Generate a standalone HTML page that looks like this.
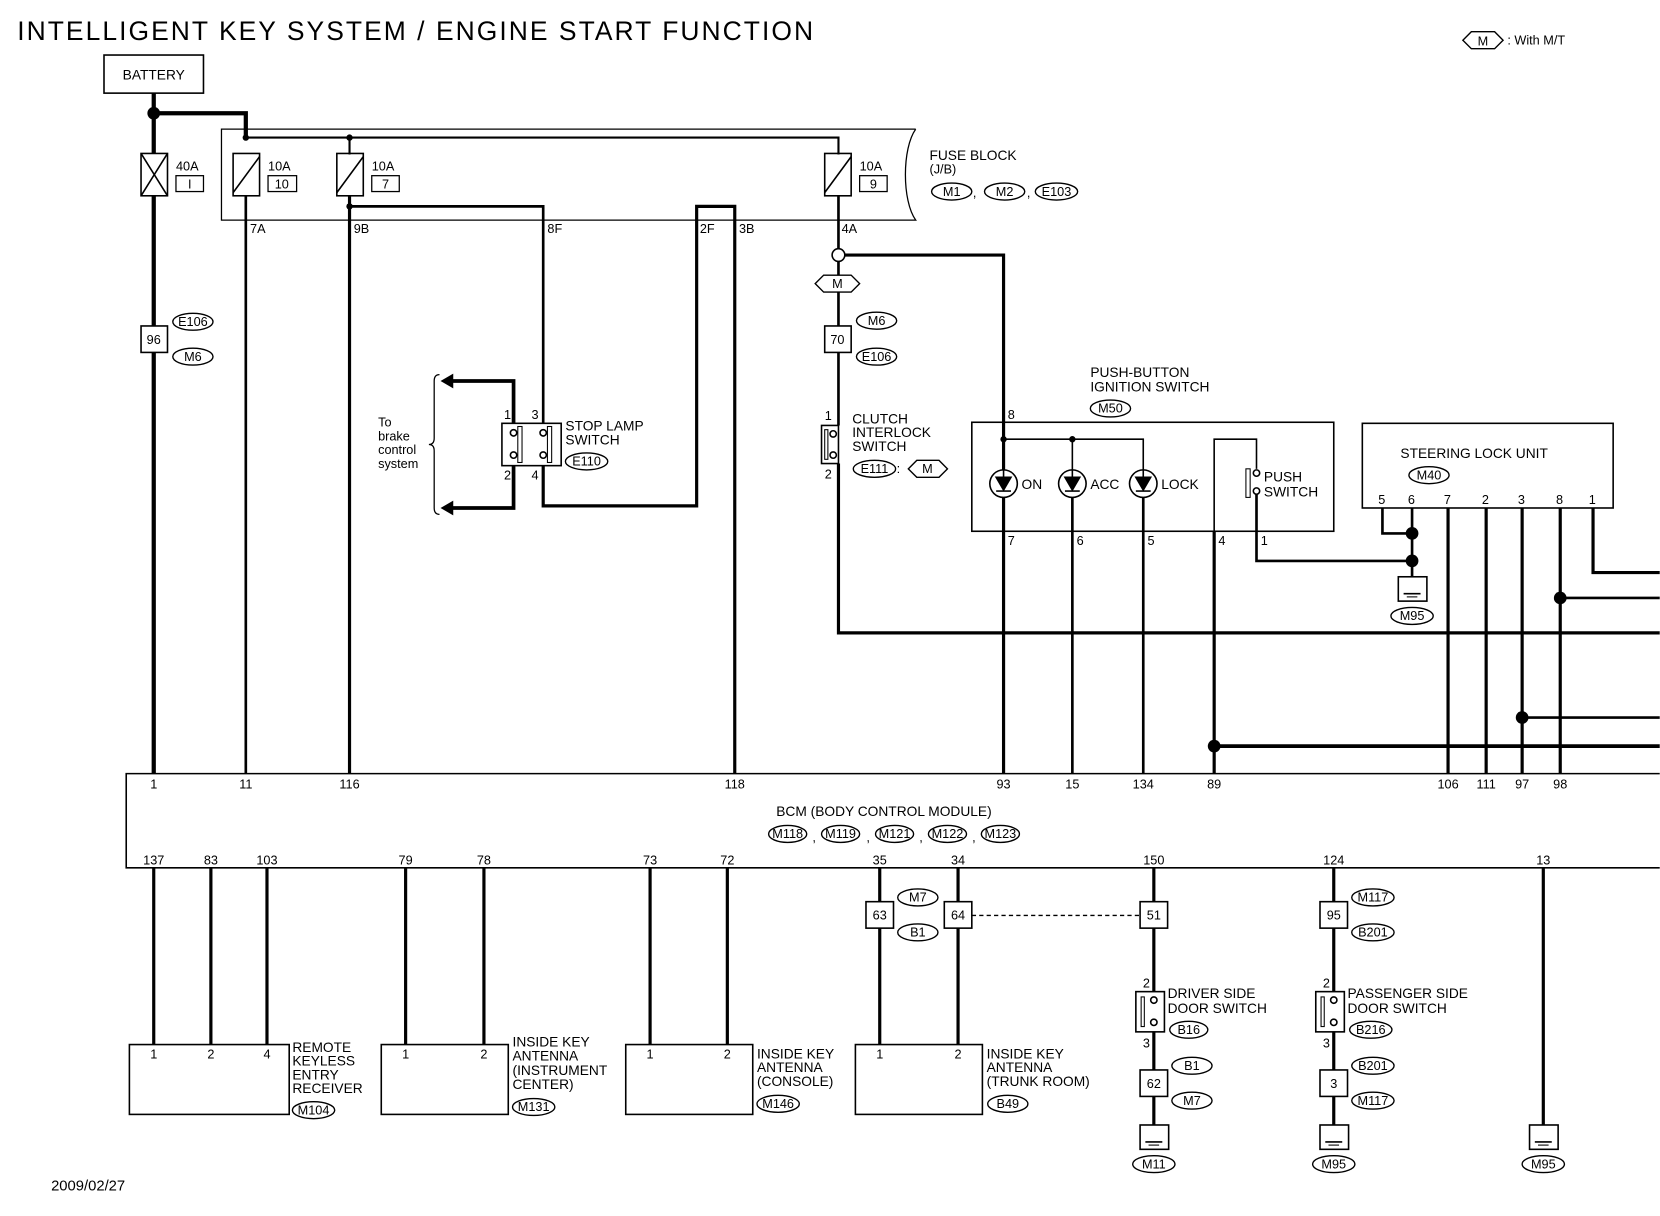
<!DOCTYPE html>
<html><head><meta charset="utf-8"><style>
html,body{margin:0;padding:0;background:#fff}
svg{display:block}
text{font-family:"Liberation Sans",sans-serif;fill:#000}
</style></head><body>
<svg width="1660" height="1216" viewBox="0 0 1568 1149" xmlns="http://www.w3.org/2000/svg">
<defs>
<g id="gnd"><rect x="-13" y="0" width="27" height="23" fill="#fff" stroke="#000" stroke-width="1.5"/><line x1="-8" y1="16" x2="8" y2="16" stroke="#000" stroke-width="1.5"/><line x1="-5" y1="19" x2="5" y2="19" stroke="#000" stroke-width="1"/></g>
</defs>
<rect width="1568" height="1149" fill="#fff"/>
<text x="16" y="38" font-size="25" textLength="752">INTELLIGENT KEY SYSTEM / ENGINE START FUNCTION</text>
<path d="M1382 38 L1390 30 L1412 30 L1420 38 L1412 46 L1390 46 Z" fill="none" stroke="#000" stroke-width="1.3"/>
<text x="1401" y="43" font-size="12" text-anchor="middle">M</text>
<text x="1424" y="42" font-size="12">: With M/T</text>

<g fill="none" stroke="#000">
<rect x="98" y="52" width="94" height="36" stroke-width="1.5"/>
<polyline points="145,88 145,731" stroke-width="4"/>
<polyline points="145,107 232,107 232,130" stroke-width="4"/>
<path d="M865 122 L209 122 L209 208 L865 208 C852 190 852 140 865 122" stroke-width="1.2"/>
<polyline points="232,130 792,130 792,146" stroke-width="2"/>
<line x1="330" y1="130" x2="330" y2="146" stroke-width="2"/>
<rect x="133" y="145" width="25" height="40" stroke-width="1.5" fill="#fff"/>
<line x1="133" y1="145" x2="158" y2="185" stroke-width="1.5"/><line x1="158" y1="145" x2="133" y2="185" stroke-width="1.5"/>
<rect x="220" y="145" width="25" height="40" stroke-width="1.5"/><line x1="220" y1="182" x2="245" y2="148" stroke-width="1.5"/>
<rect x="318" y="145" width="25" height="40" stroke-width="1.5"/><line x1="318" y1="182" x2="343" y2="148" stroke-width="1.5"/>
<rect x="779" y="145" width="25" height="40" stroke-width="1.5"/><line x1="779" y1="182" x2="804" y2="148" stroke-width="1.5"/>
<rect x="166" y="166" width="26" height="15" stroke-width="1.2"/>
<rect x="253" y="166" width="27" height="15" stroke-width="1.2"/>
<rect x="351" y="166" width="26" height="15" stroke-width="1.2"/>
<rect x="812" y="166" width="26" height="15" stroke-width="1.2"/>
<line x1="232" y1="185" x2="232" y2="731" stroke-width="2.5"/>
<line x1="330" y1="185" x2="330" y2="731" stroke-width="3"/>
<polyline points="330,195 513,195 513,400" stroke-width="2.5"/>
<polyline points="694,731 694,195 658,195 658,478 513,478 513,440" stroke-width="3"/>
<line x1="792" y1="185" x2="792" y2="235" stroke-width="2.5"/>
<polyline points="798,241 948,241 948,731" stroke-width="3"/>
<line x1="792" y1="247" x2="792" y2="402" stroke-width="2.5"/>
<polyline points="792,438 792,598 1568,598" stroke-width="3"/>
<rect x="474" y="400" width="56" height="40" stroke-width="1.5"/>
<polyline points="485,400 485,360 425,360" stroke-width="3.5"/>
<polyline points="485,440 485,480 425,480" stroke-width="3.5"/>
<path d="M415 354 Q410 354 410 360 L410 414 Q410 420 405 420 Q410 420 410 426 L410 480 Q410 486 415 486" stroke-width="1.2"/>
<rect x="489" y="403" width="4" height="34" stroke-width="1"/><rect x="517" y="403" width="4" height="34" stroke-width="1"/>
<rect x="776" y="402" width="16" height="36" stroke-width="1.5"/>
<rect x="779" y="406" width="3" height="28" stroke-width="1"/>
<path d="M770 268 L778 260 L804 260 L812 268 L804 276 L778 276 Z" stroke-width="1.3" fill="#fff"/>
<path d="M858 443 L866 435 L887 435 L895 443 L887 451 L866 451 Z" stroke-width="1.3"/>
<rect x="133" y="308" width="25" height="25" stroke-width="1.5" fill="#fff"/>
<rect x="779" y="308" width="25" height="25" stroke-width="1.5" fill="#fff"/>
<rect x="918" y="399" width="342" height="103" stroke-width="1.5"/>
<polyline points="948,415 1080,415 1080,444" stroke-width="1.5"/>
<line x1="1013" y1="415" x2="1013" y2="444" stroke-width="1.5"/>
<line x1="1013" y1="470" x2="1013" y2="731" stroke-width="2.5"/>
<line x1="1080" y1="470" x2="1080" y2="731" stroke-width="2.5"/>
<polyline points="1147,731 1147,415 1187,415 1187,443" stroke-width="1.5"/>
<line x1="1147" y1="502" x2="1147" y2="731" stroke-width="3"/>
<polyline points="1187,467 1187,530 1334,530" stroke-width="2.5"/>
<rect x="1177" y="443" width="4" height="27" stroke-width="1"/>
<line x1="1147" y1="705" x2="1568" y2="705" stroke-width="3.5"/>
<rect x="1287" y="400" width="237" height="80" stroke-width="1.5"/>
<polyline points="1306,480 1306,504 1334,504" stroke-width="2.5"/>
<line x1="1334" y1="480" x2="1334" y2="545" stroke-width="2.5"/>
<line x1="1368" y1="480" x2="1368" y2="731" stroke-width="3"/>
<line x1="1404" y1="480" x2="1404" y2="731" stroke-width="3"/>
<line x1="1438" y1="480" x2="1438" y2="731" stroke-width="3"/>
<line x1="1474" y1="480" x2="1474" y2="731" stroke-width="3"/>
<polyline points="1505,480 1505,541 1568,541" stroke-width="3"/>
<line x1="1474" y1="565" x2="1568" y2="565" stroke-width="2.5"/>
<line x1="1438" y1="678" x2="1568" y2="678" stroke-width="2.5"/>
<polyline points="1568,731 119,731 119,820 1568,820" stroke-width="1.5"/>
<g stroke-width="3">
<line x1="145" y1="820" x2="145" y2="987"/><line x1="199" y1="820" x2="199" y2="987"/><line x1="252" y1="820" x2="252" y2="987"/>
<line x1="383" y1="820" x2="383" y2="987"/><line x1="457" y1="820" x2="457" y2="987"/>
<line x1="614" y1="820" x2="614" y2="987"/><line x1="687" y1="820" x2="687" y2="987"/>
<line x1="831" y1="820" x2="831" y2="987"/><line x1="905" y1="820" x2="905" y2="987"/>
<line x1="1090" y1="820" x2="1090" y2="1063"/><line x1="1260" y1="820" x2="1260" y2="1063"/>
<line x1="1458" y1="820" x2="1458" y2="1063"/>
</g>
<line x1="918" y1="865" x2="1077" y2="865" stroke-width="1.2" stroke-dasharray="4,3"/>
<g stroke-width="1.5" fill="#fff">
<rect x="122" y="987" width="151" height="66"/><rect x="360" y="987" width="120" height="66"/>
<rect x="591" y="987" width="120" height="66"/><rect x="808" y="987" width="120" height="66"/>
<rect x="818" y="852" width="26" height="25"/><rect x="892" y="852" width="26" height="25"/>
<rect x="1077" y="852" width="26" height="25"/><rect x="1247" y="852" width="26" height="25"/>
<rect x="1077" y="1011" width="26" height="25"/><rect x="1247" y="1011" width="26" height="25"/>
<rect x="1073" y="937" width="27" height="38"/><rect x="1243" y="937" width="27" height="38"/>
</g>
<rect x="1078" y="942" width="3" height="28" stroke-width="1"/><rect x="1248" y="942" width="3" height="28" stroke-width="1"/>
</g>
<g fill="#fff" stroke="#000" stroke-width="1.5">
<circle cx="792" cy="241" r="6"/>
<circle cx="485" cy="409" r="3"/><circle cx="485" cy="430" r="3"/><circle cx="513" cy="409" r="3"/><circle cx="513" cy="430" r="3"/>
<circle cx="787" cy="410" r="3"/><circle cx="787" cy="430" r="3"/>
<circle cx="1187" cy="447" r="3"/><circle cx="1187" cy="464" r="3"/>
<circle cx="1090" cy="945" r="3"/><circle cx="1090" cy="966" r="3"/>
<circle cx="1260" cy="945" r="3"/><circle cx="1260" cy="966" r="3"/>
</g>
<g stroke="#000" stroke-width="1.5">
<circle cx="948" cy="457" r="13" fill="#fff"/><path d="M941 451 L955 451 L948 463 Z" fill="#000"/><line x1="941" y1="464" x2="955" y2="464"/><line x1="948" y1="444" x2="948" y2="451"/>
<circle cx="1013" cy="457" r="13" fill="#fff"/><path d="M1006 451 L1020 451 L1013 463 Z" fill="#000"/><line x1="1006" y1="464" x2="1020" y2="464"/><line x1="1013" y1="444" x2="1013" y2="451"/>
<circle cx="1080" cy="457" r="13" fill="#fff"/><path d="M1073 451 L1087 451 L1080 463 Z" fill="#000"/><line x1="1073" y1="464" x2="1087" y2="464"/><line x1="1080" y1="444" x2="1080" y2="451"/>
</g>
<path d="M416 360 L428 353 L428 367 Z"/><path d="M416 480 L428 473 L428 487 Z"/>
<g fill="#000">
<circle cx="145" cy="107" r="6"/><circle cx="232" cy="130" r="3"/><circle cx="330" cy="130" r="3"/><circle cx="330" cy="195" r="3"/>
<circle cx="948" cy="415" r="3"/><circle cx="1013" cy="415" r="3"/>
<circle cx="1334" cy="504" r="6"/><circle cx="1334" cy="530" r="6"/>
<circle cx="1474" cy="565" r="6"/><circle cx="1438" cy="678" r="6"/><circle cx="1147" cy="705" r="6"/>
</g>
<use href="#gnd" x="1334" y="545"/>
<use href="#gnd" x="1090" y="1063"/><use href="#gnd" x="1260" y="1063"/><use href="#gnd" x="1458" y="1063"/>

<g fill="#fff" stroke="#000" stroke-width="1.3">
<ellipse cx="182" cy="304" rx="19" ry="8"/><ellipse cx="182" cy="337" rx="19" ry="8"/>
<ellipse cx="828" cy="303" rx="19" ry="8"/><ellipse cx="828" cy="337" rx="19" ry="8"/>
<ellipse cx="899" cy="181" rx="19" ry="8"/><ellipse cx="949" cy="181" rx="19" ry="8"/><ellipse cx="998" cy="181" rx="20" ry="8"/>
<ellipse cx="554" cy="436" rx="20" ry="8"/><ellipse cx="826" cy="443" rx="20" ry="8"/>
<ellipse cx="1049" cy="386" rx="19" ry="8"/><ellipse cx="1350" cy="449" rx="19" ry="8"/><ellipse cx="1334" cy="582" rx="20" ry="8"/>
<ellipse cx="744" cy="788" rx="18" ry="8"/><ellipse cx="794" cy="788" rx="18" ry="8"/><ellipse cx="845" cy="788" rx="18" ry="8"/><ellipse cx="895" cy="788" rx="18" ry="8"/><ellipse cx="945" cy="788" rx="18" ry="8"/>
<ellipse cx="867" cy="848" rx="19" ry="8"/><ellipse cx="867" cy="881" rx="19" ry="8"/>
<ellipse cx="1297" cy="848" rx="20" ry="8"/><ellipse cx="1297" cy="881" rx="20" ry="8"/>
<ellipse cx="1123" cy="973" rx="18" ry="8"/><ellipse cx="1126" cy="1007" rx="19" ry="8"/><ellipse cx="1126" cy="1040" rx="19" ry="8"/>
<ellipse cx="1295" cy="973" rx="20" ry="8"/><ellipse cx="1297" cy="1007" rx="20" ry="8"/><ellipse cx="1297" cy="1040" rx="20" ry="8"/>
<ellipse cx="1090" cy="1100" rx="20" ry="8"/><ellipse cx="1260" cy="1100" rx="20" ry="8"/><ellipse cx="1458" cy="1100" rx="20" ry="8"/>
<ellipse cx="296" cy="1049" rx="20" ry="8"/><ellipse cx="504" cy="1046" rx="20" ry="8"/><ellipse cx="735" cy="1043" rx="20" ry="8"/><ellipse cx="952" cy="1043" rx="19" ry="8"/>
</g>
<g font-size="12" text-anchor="middle">
<text x="182" y="308">E106</text><text x="182" y="341">M6</text>
<text x="828" y="307">M6</text><text x="828" y="341">E106</text>
<text x="899" y="185">M1</text><text x="949" y="185">M2</text><text x="998" y="185">E103</text>
<text x="554" y="440">E110</text><text x="826" y="447">E111</text>
<text x="1049" y="390">M50</text><text x="1350" y="453">M40</text><text x="1334" y="586">M95</text>
<text x="744" y="792">M118</text><text x="794" y="792">M119</text><text x="845" y="792">M121</text><text x="895" y="792">M122</text><text x="945" y="792">M123</text>
<text x="769" y="795">,</text><text x="820" y="795">,</text><text x="870" y="795">,</text><text x="920" y="795">,</text>
<text x="867" y="852">M7</text><text x="867" y="885">B1</text>
<text x="1297" y="852">M117</text><text x="1297" y="885">B201</text>
<text x="1123" y="977">B16</text><text x="1126" y="1011">B1</text><text x="1126" y="1044">M7</text>
<text x="1295" y="977">B216</text><text x="1297" y="1011">B201</text><text x="1297" y="1044">M117</text>
<text x="1090" y="1104">M11</text><text x="1260" y="1104">M95</text><text x="1458" y="1104">M95</text>
<text x="296" y="1053">M104</text><text x="504" y="1050">M131</text><text x="735" y="1047">M146</text><text x="952" y="1047">B49</text>
<text x="145" y="75" font-size="13">BATTERY</text>
<text x="179" y="178">I</text><text x="266" y="178">10</text><text x="364" y="178">7</text><text x="825" y="178">9</text>
<text x="145" y="325">96</text><text x="791" y="325">70</text><text x="791" y="272">M</text><text x="876" y="447">M</text>
<text x="831" y="869">63</text><text x="905" y="869">64</text><text x="1090" y="869">51</text><text x="1260" y="869">95</text>
<text x="1090" y="1028">62</text><text x="1260" y="1028">3</text>
<text x="835" y="771" font-size="13">BCM (BODY CONTROL MODULE)</text>
</g>
<g font-size="12">
<text x="166" y="161">40A</text><text x="253" y="161">10A</text><text x="351" y="161">10A</text><text x="812" y="161">10A</text>
<text x="236" y="220">7A</text><text x="334" y="220">9B</text><text x="517" y="220">8F</text><text x="661" y="220">2F</text><text x="698" y="220">3B</text><text x="795" y="220">4A</text>
<text x="878" y="151" font-size="13">FUSE BLOCK</text><text x="878" y="164">(J/B)</text>
<text x="919" y="186">,</text><text x="970" y="186">,</text>
<text x="357" y="403">To</text><text x="357" y="416">brake</text><text x="357" y="429">control</text><text x="357" y="442">system</text>
<text x="476" y="396">1</text><text x="502" y="396">3</text><text x="476" y="453">2</text><text x="502" y="453">4</text>
<text x="534" y="407" font-size="13">STOP LAMP</text><text x="534" y="420" font-size="13">SWITCH</text>
<text x="779" y="397">1</text><text x="779" y="452">2</text>
<text x="805" y="400" font-size="13">CLUTCH</text><text x="805" y="413" font-size="13">INTERLOCK</text><text x="805" y="426" font-size="13">SWITCH</text>
<text x="847" y="447">:</text>
<text x="1030" y="356" font-size="13">PUSH-BUTTON</text><text x="1030" y="370" font-size="13">IGNITION SWITCH</text>
<text x="952" y="396">8</text>
<text x="965" y="462" font-size="13">ON</text><text x="1030" y="462" font-size="13">ACC</text><text x="1097" y="462" font-size="13">LOCK</text>
<text x="1194" y="455" font-size="13">PUSH</text><text x="1194" y="469" font-size="13">SWITCH</text>
<text x="952" y="515">7</text><text x="1017" y="515">6</text><text x="1084" y="515">5</text><text x="1151" y="515">4</text><text x="1191" y="515">1</text>
<text x="1323" y="433" font-size="13">STEERING LOCK UNIT</text>
<text x="1302" y="476">5</text><text x="1330" y="476">6</text><text x="1364" y="476">7</text><text x="1400" y="476">2</text><text x="1434" y="476">3</text><text x="1470" y="476">8</text><text x="1501" y="476">1</text>
</g>
<g font-size="12" text-anchor="middle">
<text x="145" y="745">1</text><text x="232" y="745">11</text><text x="330" y="745">116</text><text x="694" y="745">118</text><text x="948" y="745">93</text><text x="1013" y="745">15</text><text x="1080" y="745">134</text><text x="1147" y="745">89</text><text x="1368" y="745">106</text><text x="1404" y="745">111</text><text x="1438" y="745">97</text><text x="1474" y="745">98</text>
<text x="145" y="817">137</text><text x="199" y="817">83</text><text x="252" y="817">103</text><text x="383" y="817">79</text><text x="457" y="817">78</text><text x="614" y="817">73</text><text x="687" y="817">72</text><text x="831" y="817">35</text><text x="905" y="817">34</text><text x="1090" y="817">150</text><text x="1260" y="817">124</text><text x="1458" y="817">13</text>
<text x="145" y="1000">1</text><text x="199" y="1000">2</text><text x="252" y="1000">4</text>
<text x="383" y="1000">1</text><text x="457" y="1000">2</text><text x="614" y="1000">1</text><text x="687" y="1000">2</text><text x="831" y="1000">1</text><text x="905" y="1000">2</text>
<text x="1083" y="933">2</text><text x="1083" y="990">3</text><text x="1253" y="933">2</text><text x="1253" y="990">3</text>
</g>
<g font-size="13">
<text x="276" y="994">REMOTE</text><text x="276" y="1007">KEYLESS</text><text x="276" y="1020">ENTRY</text><text x="276" y="1033">RECEIVER</text>
<text x="484" y="989">INSIDE KEY</text><text x="484" y="1002">ANTENNA</text><text x="484" y="1016">(INSTRUMENT</text><text x="484" y="1029">CENTER)</text>
<text x="715" y="1000">INSIDE KEY</text><text x="715" y="1013">ANTENNA</text><text x="715" y="1026">(CONSOLE)</text>
<text x="932" y="1000">INSIDE KEY</text><text x="932" y="1013">ANTENNA</text><text x="932" y="1026">(TRUNK ROOM)</text>
<text x="1103" y="943">DRIVER SIDE</text><text x="1103" y="957">DOOR SWITCH</text>
<text x="1273" y="943">PASSENGER SIDE</text><text x="1273" y="957">DOOR SWITCH</text>
<text x="48" y="1125" font-size="14">2009/02/27</text>
</g>
</svg>
</body></html>
